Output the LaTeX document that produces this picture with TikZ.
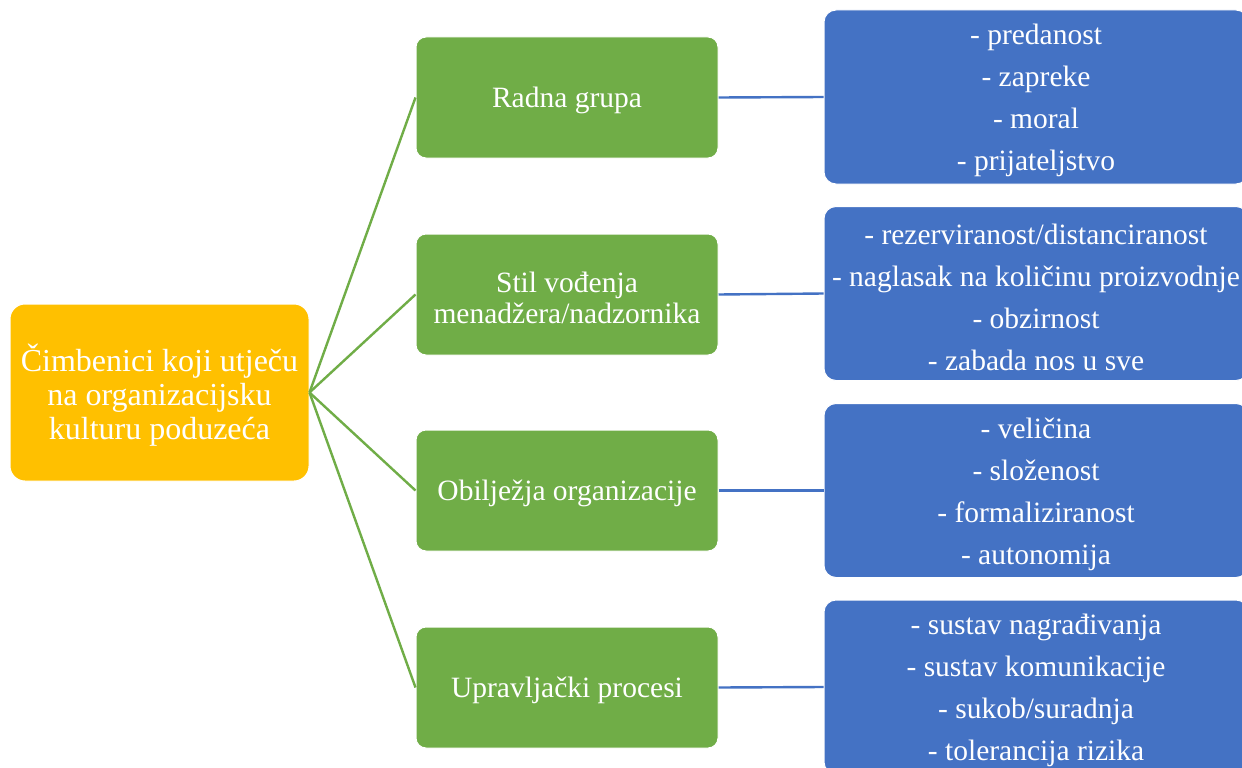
\documentclass[tikz,border=0pt]{standalone}
\usepackage{fontspec}
\setmainfont{Liberation Serif}
\definecolor{cyel}{HTML}{FFC000}
\definecolor{cgrn}{HTML}{70AD47}
\definecolor{cblu}{HTML}{4472C4}
\begin{document}
\begin{tikzpicture}[x=1pt,y=-1pt,
  ybox/.style={fill=cyel,draw=white,line width=1pt,rounded corners=15pt,minimum width=299pt,minimum height=177pt,inner sep=0pt},
  gbox/.style={fill=cgrn,draw=white,line width=1pt,rounded corners=10pt,minimum width=302pt,minimum height=121pt,inner sep=0pt},
  bbox/.style={fill=cblu,draw=white,line width=1pt,rounded corners=12pt,minimum width=424pt,minimum height=174pt,inner sep=0pt},
  ytxt/.style={text=white,align=center,font=\fontsize{32}{34}\selectfont,inner sep=0pt},
  gtxt/.style={text=white,align=center,font=\fontsize{29.5}{31}\selectfont,inner sep=0pt},
  btxt/.style={text=white,align=center,font=\fontsize{29.5}{42}\selectfont,inner sep=0pt},
  gline/.style={draw=cgrn,line width=2.4pt},
  bline/.style={draw=cblu,line width=2.4pt}]
\useasboundingbox (0,0) rectangle (1242,768);
\fill[white] (0,0) rectangle (1242,768);
\node[ybox] (y) at (159.5,392.5) {};
\node[gbox] (g1) at (567,97.5) {};
\node[gbox] (g2) at (567,294.5) {};
\node[gbox] (g3) at (567,490.5) {};
\node[gbox] (g4) at (567,687.5) {};
\node[bbox] (b1) at (1036,97) {};
\node[bbox] (b2) at (1036,293.5) {};
\node[bbox] (b3) at (1036,490.5) {};
\node[bbox] (b4) at (1036,687) {};
\node[ytxt] (yt) at ([yshift=-2.5pt]y.center) {Čimbenici koji utječu\\na organizacijsku\\kulturu poduzeća};
\node[gtxt] (g1t) at ([yshift=-3pt]g1.center) {Radna grupa};
\node[gtxt] (g2t) at ([yshift=-3pt]g2.center) {Stil vođenja\\menadžera/nadzornika};
\node[gtxt] (g3t) at ([yshift=-3pt]g3.center) {Obilježja organizacije};
\node[gtxt] (g4t) at ([yshift=-3pt]g4.center) {Upravljački procesi};
\node[btxt] (b1t) at ([yshift=-3.5pt]b1.center) {- predanost\\- zapreke\\- moral\\- prijateljstvo};
\node[btxt] (b2t) at ([yshift=-3.5pt]b2.center) {- rezerviranost/distanciranost\\- naglasak na količinu proizvodnje\\- obzirnost\\- zabada nos u sve};
\node[btxt] (b3t) at ([yshift=-3.5pt]b3.center) {- veličina\\- složenost\\- formaliziranost\\- autonomija};
\node[btxt] (b4t) at ([yshift=-3.5pt]b4.center) {- sustav nagrađivanja\\- sustav komunikacije\\- sukob/suradnja\\- tolerancija rizika};
\draw[gline] (y.east) -- (g1.west);
\draw[gline] (y.east) -- (g2.west);
\draw[gline] (y.east) -- (g3.west);
\draw[gline] (y.east) -- (g4.west);
\draw[bline] (g1.east) -- (b1.west);
\draw[bline] (g2.east) -- (b2.west);
\draw[bline] (g3.east) -- (b3.west);
\draw[bline] (g4.east) -- (b4.west);
\end{tikzpicture}
\end{document}
